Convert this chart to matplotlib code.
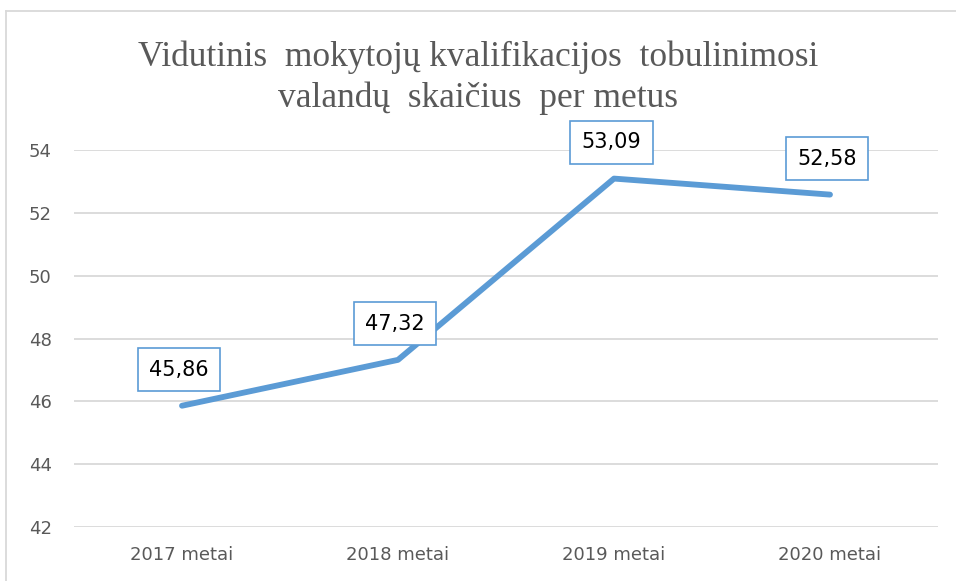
import matplotlib
matplotlib.use("Agg")
import matplotlib.pyplot as plt
from matplotlib.lines import Line2D

categories = ["2017 metai", "2018 metai", "2019 metai", "2020 metai"]
values = [45.86, 47.32, 53.09, 52.58]
value_labels = ["45,86", "47,32", "53,09", "52,58"]
yticks = [42, 44, 46, 48, 50, 52, 54]
title = "Vidutinis  mokytojų kvalifikacijos  tobulinimosi\nvalandų  skaičius  per metus"

W, H = 956, 581
fig = plt.figure(figsize=(W / 100, H / 100), dpi=100)
fig.patch.set_facecolor("white")

# plot area in pixels: left 74, right 938, top y=150 (54) bottom y=527 (42)
ax = fig.add_axes([74 / W, 1 - 527 / H, (938 - 74) / W, (527 - 150) / H])
x = list(range(len(categories)))
ax.plot(x, values, color="#5B9BD5", lw=4.2, solid_capstyle="round",
        solid_joinstyle="round", zorder=3)
ax.set_xlim(-0.5, len(categories) - 0.5)
ax.set_ylim(42, 54)
ax.set_yticks(yticks)
ax.set_yticklabels([str(v) for v in yticks])
ax.set_xticks(x)
ax.set_xticklabels(categories)
ax.tick_params(axis="both", length=0, labelsize=13, colors="#595959")
ax.tick_params(axis="y", pad=16)
ax.tick_params(axis="x", pad=14)
for s in ax.spines.values():
    s.set_visible(False)
ax.grid(axis="y", color="#D9D9D9", lw=1.3)
ax.set_axisbelow(True)

for xi, v, lab in zip(x, values, value_labels):
    ax.annotate(lab, (xi, v), xytext=(-2, 26), textcoords="offset points",
                ha="center", va="center", fontsize=15, color="black",
                bbox=dict(boxstyle="square,pad=0.55", fc="white",
                          ec="#5B9BD5", lw=1.2),
                zorder=5)

fig.text(0.5, 1 - 78 / H, title, ha="center", va="center",
         fontsize=25.5, family="Liberation Serif", color="#595959",
         linespacing=1.3)

# outer chart border (left and top visible)
fig.add_artist(Line2D([6 / W, 6 / W], [0, 1 - 11 / H], transform=fig.transFigure,
                      color="#D9D9D9", lw=1.3))
fig.add_artist(Line2D([6 / W, 1], [1 - 11 / H, 1 - 11 / H], transform=fig.transFigure,
                      color="#D9D9D9", lw=1.3))

fig.savefig("out.png", dpi=100)
